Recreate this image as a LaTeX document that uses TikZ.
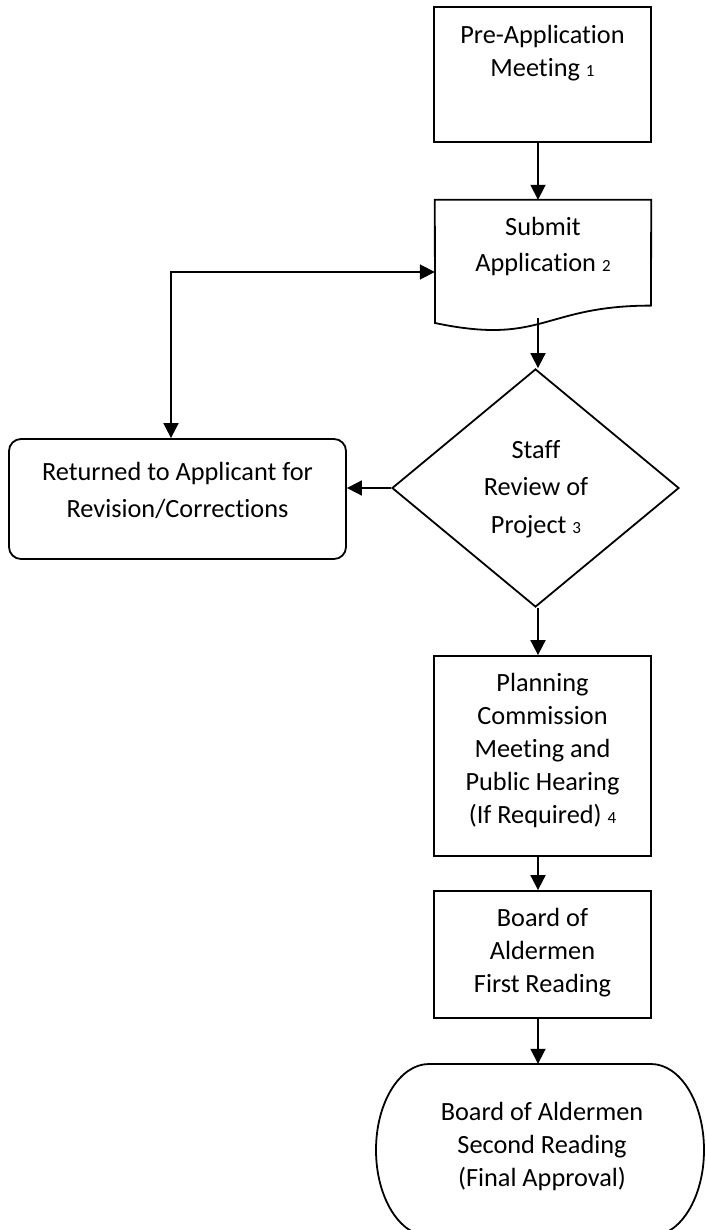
\documentclass[tikz,border=0pt]{standalone}
\usepackage{fontspec}
\setmainfont[Ligatures=NoCommon]{Carlito}
\usetikzlibrary{arrows.meta,shapes.geometric}
\newcommand{\nb}[1]{{\fontsize{17}{20}\selectfont #1}}
\begin{document}
\begin{tikzpicture}[x=1pt,y=-1pt,
  shapeline/.style={draw=black,line width=1.8pt},
  boxnode/.style={shapeline,rectangle,inner sep=0pt,minimum width=217pt},
  txt/.style={font=\fontsize{26.3}{33}\selectfont,align=center,inner sep=0pt},
  conn/.style={line width=1.8pt,-{Triangle[length=15pt,width=15pt]}},
  both/.style={line width=1.8pt,{Triangle[length=15pt,width=15pt]}-{Triangle[length=15pt,width=15pt]}},
  ]
\useasboundingbox (0,0) rectangle (705,1230);
\clip (0,0) rectangle (705,1230);

% Pre-application
\node[boxnode,minimum height=135pt] (pre) at (542.5,74.5) {};
\node[txt] (preT) at (542.5,53.4) {\strut Pre-Application\\\strut Meeting \nb{1}};

% Submit application (document shape)
\node[inner sep=0pt,minimum width=216pt,minimum height=132pt] (sub) at (543,266) {};
\draw[shapeline,line join=miter] (sub.north west) -- (sub.north east) -- (651,305.6)
  .. controls (543,305.6) and (543,345.8) .. (435,323) -- cycle;
\node[txt] (subT) at (543,247.4) {\strut Submit\\[3pt]\strut Application \nb{2}};
\coordinate (sbot) at (538,318);

% Returned box
\node[shapeline,rounded corners=12pt,minimum width=337pt,minimum height=120pt,inner sep=0pt] (ret) at (177.5,499) {};
\node[txt] (retT) at (177.5,491.9) {\strut Returned to Applicant for\\[4pt]\strut Revision/Corrections};

% Staff review diamond
\node[shapeline,diamond,minimum width=287pt,minimum height=238pt,inner sep=0pt] (rev) at (535.5,488) {};
\node[txt] (revT) at (536,489) {\strut Staff\\[4.5pt]\strut Review of\\[4.5pt]\strut Project \nb{3}};

% Planning commission
\node[boxnode,minimum height=200pt] (plan) at (542.5,756) {};
\node[txt] (planT) at (542.5,750.5) {\strut Planning\\Commission\\Meeting and\\Public Hearing\\\strut (If Required) \nb{4}};

% First reading
\node[boxnode,minimum height=127pt] (first) at (542.5,954.5) {};
\node[txt] (firstT) at (542.5,953) {\strut Board of\\Aldermen\\\strut First Reading};

% Final approval (terminator)
\node[inner sep=0pt,minimum width=328pt,minimum height=172pt] (fin) at (540,1150) {};
\draw[shapeline] (429,1064) -- (651,1064) arc[start angle=-90,end angle=90,x radius=53,y radius=86]
  -- (429,1236) arc[start angle=90,end angle=270,x radius=53,y radius=86] -- cycle;
\node[txt] (finT) at (542,1147) {\strut Board of Aldermen\\Second Reading\\\strut (Final Approval)};

% connectors
\coordinate (ax) at (538,0);
\coordinate (lp) at (171,272);
\draw[conn] (pre.south -| ax) -- (sub.north -| ax);
\draw[conn] (sbot) -- (rev.north -| ax);
\draw[conn] (rev.south -| ax) -- (plan.north -| ax);
\draw[conn] (plan.south -| ax) -- (first.north -| ax);
\draw[conn] (first.south -| ax) -- (fin.north -| ax);
\draw[conn] (rev.west) -- (ret.east |- rev.west);
\draw[both] (ret.north -| lp) -- (lp) -- (sub.west |- lp);
\end{tikzpicture}
\end{document}
